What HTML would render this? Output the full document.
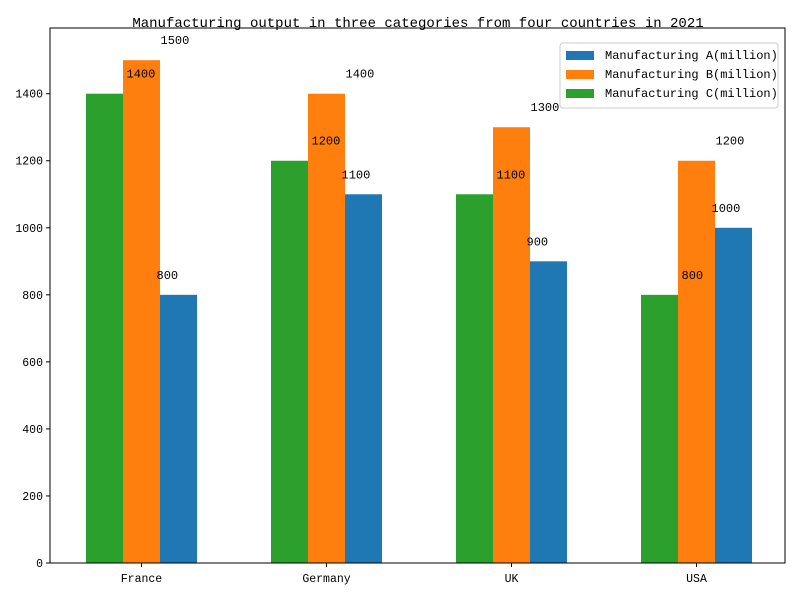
<!DOCTYPE html>
<html><head><meta charset="utf-8"><style>
body{margin:0;background:#fff;}
text{font-family:"Liberation Mono","Noto Sans CJK SC",monospace;}
</style></head><body>
<svg id="chart" width="800" height="600" xmlns="http://www.w3.org/2000/svg">
<rect width="800" height="600" fill="#fff"/>
<text x="418" y="27" font-size="14" text-anchor="middle">Manufacturing output in three categories from four countries in 2021</text>
<g id="plot"></g>
</svg>
<script>
const categories=["France","Germany","UK","USA"];
const seriesA=[800,1100,900,1000];
const seriesB=[1500,1400,1300,1200];
const seriesC=[1400,1200,1100,800];
const yTicks=[0,200,400,600,800,1000,1200,1400];
const NS="http://www.w3.org/2000/svg";
const L=50,R=785,T=28,B=563;
const yMax=1596;
const y=v=>B-(v/yMax)*(B-T);
const x=i=>141.5+i*185;
const bw=37;
const g=document.getElementById('plot');
function mk(tag,attrs,txt){const e=document.createElementNS(NS,tag);for(const k in attrs)e.setAttribute(k,attrs[k]);if(txt!==undefined)e.textContent=txt;g.appendChild(e);return e;}
const series=[{d:seriesC,c:"#2ca02c",off:-1,lab:22,n:"c"},{d:seriesB,c:"#ff7f0e",off:0,lab:19,n:"b"},{d:seriesA,c:"#1f77b4",off:1,lab:-22,n:"a"}];
series.forEach(s=>{s.d.forEach((v,i)=>{
const cx=x(i)+s.off*bw;
const r=mk('rect',{x:cx-bw/2,y:y(v),width:bw,height:B-y(v),fill:s.c});


});});
series.forEach(s=>{s.d.forEach((v,i)=>{
const cx=x(i)+s.off*bw;
const t=mk('text',{x:cx+s.lab,y:y(v)-16,'font-size':12},String(v));


});});
const ax=mk('rect',{x:L,y:T,width:R-L,height:B-T,fill:'none',stroke:'#000','stroke-width':1});


yTicks.forEach(v=>{
mk('line',{x1:L-4,x2:L,y1:y(v),y2:y(v),stroke:'#000'});
const t=mk('text',{x:L-7,y:y(v)+4,'font-size':11.5,'text-anchor':'end'},String(v));


});
categories.forEach((c,i)=>{
mk('line',{x1:x(i),x2:x(i),y1:B,y2:B+4,stroke:'#000'});
const t=mk('text',{x:x(i),y:B+19,'font-size':11.5,'text-anchor':'middle'},c);


});
const lg=mk('rect',{x:560,y:43,width:218,height:65,fill:'#fff',stroke:'#ccc',rx:3});


[["Manufacturing A(million)","#1f77b4"],["Manufacturing B(million)","#ff7f0e"],["Manufacturing C(million)","#2ca02c"]].forEach((e,i)=>{
const yy=55+i*19;
mk('rect',{x:566,y:yy-4,width:28,height:9,fill:e[1]});
const t=mk('text',{x:605,y:yy+4,'font-size':12},e[0]);


});
</script>
</body></html>
